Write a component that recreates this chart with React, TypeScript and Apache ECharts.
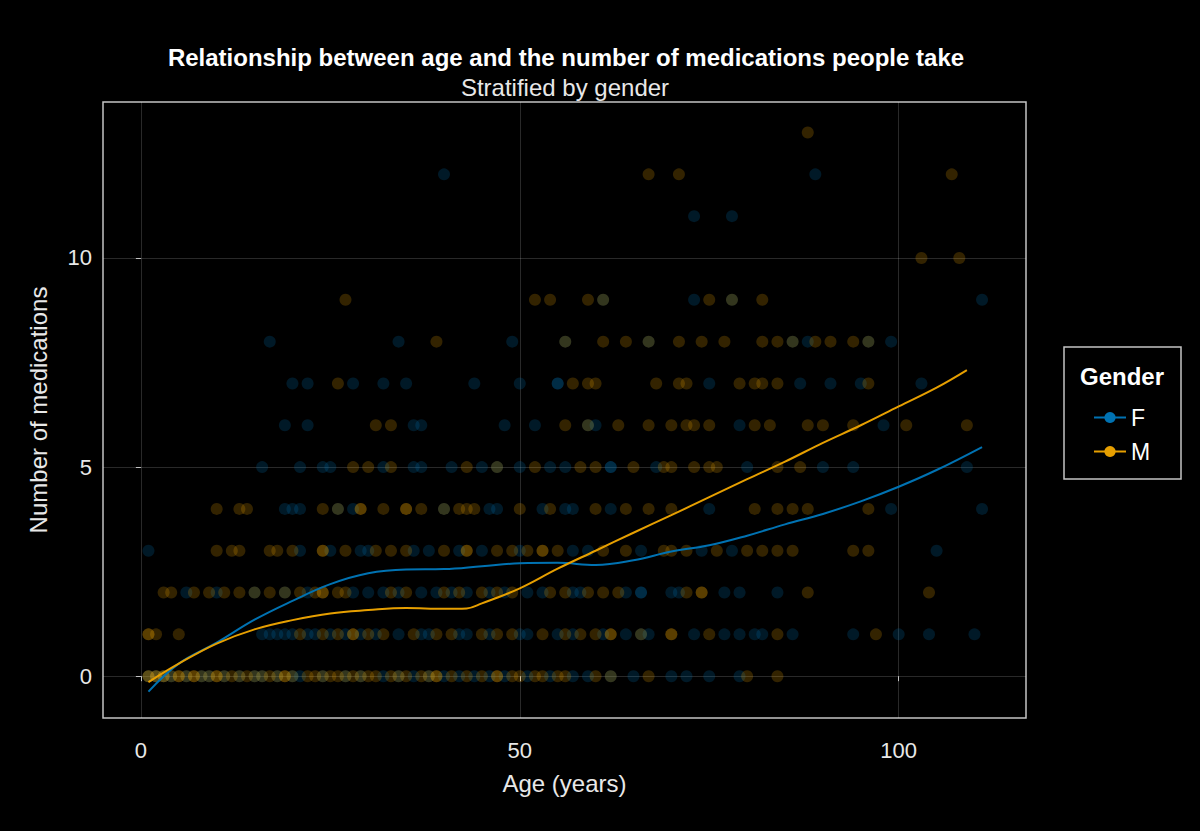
import React, { useEffect, useRef } from "react";
import * as echarts from "echarts";

const TITLE = "Relationship between age and the number of medications people take";
const SUBTITLE = "Stratified by gender";
const X_NAME = "Age (years)";
const Y_NAME = "Number of medications";
const LEGEND_TITLE = "Gender";
const X_TICKS = [0, 50, 100];
const Y_TICKS = [0, 5, 10];
const GROUPS = ["F", "M"];
const COLORS = ["#0072B2", "#E69F00"];

// Ages of the observed people, for each number of medications (0 … 13)
const F_MEDS_0 = [1, 2, 3, 4, 6, 8, 9, 11, 13, 15, 16, 18, 20, 21, 24, 27, 29, 32, 34, 36, 38, 40, 42, 44, 46, 48, 51, 54, 57, 59, 62, 65, 70, 72, 75, 79];
const M_MEDS_0 = [1, 1, 2, 2, 3, 3, 4, 5, 5, 6, 7, 7, 8, 9, 10, 10, 11, 12, 13, 14, 15, 16, 17, 18, 19, 19, 20, 22, 23, 24, 25, 26, 27, 28, 29, 30, 31, 33, 34, 35, 37, 38, 39, 39, 41, 43, 45, 47, 47, 49, 50, 52, 53, 55, 56, 60, 62, 67, 80, 84];
const F_MEDS_1 = [16, 17, 18, 19, 20, 22, 23, 25, 27, 29, 31, 34, 37, 38, 42, 43, 46, 50, 51, 55, 57, 61, 64, 66, 67, 73, 77, 79, 81, 82, 86, 94, 100, 104, 110];
const M_MEDS_1 = [1, 1, 2, 5, 21, 24, 26, 28, 28, 30, 32, 36, 39, 41, 45, 47, 49, 53, 56, 58, 60, 62, 62, 66, 70, 70, 75, 84, 97];
const F_MEDS_2 = [6, 10, 15, 19, 22, 28, 30, 32, 34, 37, 39, 41, 43, 46, 48, 51, 53, 57, 58, 64, 66, 66, 70, 71, 77, 79, 84];
const M_MEDS_2 = [3, 4, 7, 9, 11, 13, 15, 17, 19, 21, 23, 24, 24, 26, 27, 33, 35, 40, 42, 45, 47, 49, 54, 56, 59, 61, 63, 72, 74, 74, 88, 104];
const F_MEDS_3 = [1, 21, 25, 29, 30, 36, 38, 42, 45, 50, 57, 59, 66, 74, 78, 105];
const M_MEDS_3 = [10, 12, 13, 17, 18, 20, 24, 24, 27, 31, 33, 35, 40, 43, 43, 47, 49, 51, 53, 53, 55, 61, 64, 69, 70, 72, 76, 80, 82, 84, 86, 94, 96];
const F_MEDS_4 = [19, 20, 21, 26, 28, 40, 46, 47, 53, 56, 57, 62, 75, 99, 111];
const M_MEDS_4 = [10, 13, 14, 24, 26, 29, 29, 32, 35, 35, 37, 40, 42, 43, 44, 50, 54, 60, 64, 67, 70, 81, 84, 86, 88, 96];
const F_MEDS_5 = [16, 21, 24, 25, 32, 36, 37, 41, 45, 47, 50, 54, 56, 62, 62, 68, 80, 90, 94, 109];
const M_MEDS_5 = [28, 30, 33, 43, 47, 52, 58, 60, 65, 69, 70, 73, 75, 76, 84, 87];
const F_MEDS_6 = [19, 22, 36, 37, 48, 52, 59, 60, 79, 98];
const M_MEDS_6 = [31, 33, 56, 59, 63, 67, 70, 72, 73, 75, 81, 83, 88, 90, 94, 101, 109];
const F_MEDS_7 = [20, 22, 28, 32, 35, 44, 50, 55, 55, 75, 87, 91, 95, 103];
const M_MEDS_7 = [26, 57, 59, 60, 68, 71, 72, 79, 81, 82, 84, 96];
const F_MEDS_8 = [17, 34, 49, 56, 67, 86, 88, 96, 99];
const M_MEDS_8 = [39, 56, 61, 64, 67, 71, 74, 77, 82, 84, 86, 89, 91, 94, 96];
const F_MEDS_9 = [61, 73, 78, 111];
const M_MEDS_9 = [27, 52, 54, 59, 61, 75, 78, 82];
const F_MEDS_10: number[] = [];
const M_MEDS_10 = [103, 108];
const F_MEDS_11 = [73, 78];
const M_MEDS_11: number[] = [];
const F_MEDS_12 = [40, 89];
const M_MEDS_12 = [67, 71, 107];
const F_MEDS_13: number[] = [];
const M_MEDS_13 = [88];

const F_ROWS = [F_MEDS_0, F_MEDS_1, F_MEDS_2, F_MEDS_3, F_MEDS_4, F_MEDS_5, F_MEDS_6, F_MEDS_7, F_MEDS_8, F_MEDS_9, F_MEDS_10, F_MEDS_11, F_MEDS_12, F_MEDS_13];
const M_ROWS = [M_MEDS_0, M_MEDS_1, M_MEDS_2, M_MEDS_3, M_MEDS_4, M_MEDS_5, M_MEDS_6, M_MEDS_7, M_MEDS_8, M_MEDS_9, M_MEDS_10, M_MEDS_11, M_MEDS_12, M_MEDS_13];

// Smoothed (loess) trend per gender
const F_SMOOTH_AGE = [1, 5, 10, 15, 20, 25, 30, 35, 40, 45, 50, 55, 60, 65, 70, 75, 80, 85, 90, 95, 100, 105, 111];
const F_SMOOTH_VAL = [-0.37, 0.3, 0.8, 1.35, 1.8, 2.2, 2.46, 2.55, 2.56, 2.63, 2.7, 2.71, 2.66, 2.77, 2.98, 3.13, 3.36, 3.63, 3.88, 4.18, 4.53, 4.93, 5.48];
const M_SMOOTH_AGE = [1, 5, 10, 15, 20, 25, 30, 35, 40, 43, 45, 50, 55, 60, 65, 70, 75, 80, 85, 90, 95, 100, 105, 109];
const M_SMOOTH_VAL = [-0.14, 0.3, 0.78, 1.12, 1.34, 1.5, 1.58, 1.63, 1.61, 1.62, 1.74, 2.1, 2.57, 3.0, 3.43, 3.85, 4.28, 4.71, 5.13, 5.58, 6.0, 6.45, 6.9, 7.32];

const FONT = "'Liberation Sans', Arial, sans-serif";

function rowsToPoints(rows: number[][]) {
  const out: number[][] = [];
  rows.forEach((ages, meds) => ages.forEach((a) => out.push([a, meds])));
  return out;
}
function zip(xs: number[], ys: number[]) {
  return xs.map((x, i) => [x, ys[i]]);
}

export default function App() {
  const ref = useRef<HTMLDivElement>(null);
  useEffect(() => {
    if (!ref.current) return;
    const chart = echarts.init(ref.current, undefined, { renderer: "svg" });
    const option: any = {
      animation: false,
      backgroundColor: "#000000",
      textStyle: { fontFamily: FONT },
      grid: {
        left: 103,
        top: 102,
        width: 923,
        height: 616,
        show: true,
        borderColor: "#c4c4c4",
        borderWidth: 1.5,
        backgroundColor: "transparent",
      },
      xAxis: {
        type: "value",
        min: -5,
        max: 116.8,
        name: X_NAME,
        nameLocation: "middle",
        nameGap: 53,
        nameTextStyle: { color: "#e8e8e8", fontSize: 24, fontFamily: FONT },
        axisLine: { show: false },
        axisTick: { show: true, length: 5, inside: false, customValues: X_TICKS, lineStyle: { color: "#c4c4c4" } },
        axisLabel: { customValues: X_TICKS, color: "#e8e8e8", fontSize: 22, margin: 21, fontFamily: FONT },
        splitLine: { show: true, lineStyle: { color: "rgba(255,255,255,0.16)", width: 1 } },
      },
      yAxis: {
        type: "value",
        min: -1.0,
        max: 13.73,
        name: Y_NAME,
        nameLocation: "middle",
        nameGap: 53,
        nameTextStyle: { color: "#e8e8e8", fontSize: 24, fontFamily: FONT },
        axisLine: { show: false },
        axisTick: { show: true, length: 5, inside: false, customValues: Y_TICKS, lineStyle: { color: "#c4c4c4" } },
        axisLabel: { customValues: Y_TICKS, color: "#e8e8e8", fontSize: 22, margin: 11, fontFamily: FONT },
        splitLine: { show: true, lineStyle: { color: "rgba(255,255,255,0.16)", width: 1 } },
      },
      legend: {
        data: GROUPS,
        orient: "vertical",
        left: 1088,
        top: 401,
        itemWidth: 32,
        itemHeight: 14,
        itemGap: 11,
        textStyle: { color: "#ffffff", fontSize: 23, fontFamily: FONT },
        selectedMode: false,
      },
      graphic: [
        {
          type: "text",
          x: 566,
          y: 57,
          style: { text: TITLE, fill: "#ffffff", font: `bold 24px ${FONT}`, textAlign: "center", textVerticalAlign: "middle" },
        },
        {
          type: "text",
          x: 565,
          y: 87,
          style: { text: SUBTITLE, fill: "#e8e8e8", font: `24px ${FONT}`, textAlign: "center", textVerticalAlign: "middle" },
        },
        {
          type: "rect",
          shape: { x: 1064, y: 347, width: 117, height: 132 },
          style: { fill: "none", stroke: "#c4c4c4", lineWidth: 1.5 },
        },
        {
          type: "text",
          x: 1122,
          y: 376,
          style: { text: LEGEND_TITLE, fill: "#ffffff", font: `bold 24px ${FONT}`, textAlign: "center", textVerticalAlign: "middle" },
        },
      ],
      series: [
        {
          name: "F points",
          type: "scatter",
          data: rowsToPoints(F_ROWS),
          symbolSize: 12,
          itemStyle: { color: COLORS[0], opacity: 0.22 },
          silent: true,
          z: 2,
        },
        {
          name: "M points",
          type: "scatter",
          data: rowsToPoints(M_ROWS),
          symbolSize: 12,
          itemStyle: { color: COLORS[1], opacity: 0.22 },
          silent: true,
          z: 2,
        },
        {
          name: GROUPS[0],
          type: "line",
          data: zip(F_SMOOTH_AGE, F_SMOOTH_VAL),
          smooth: 0.4,
          showSymbol: false,
          symbol: "circle",
          symbolSize: 11,
          itemStyle: { color: COLORS[0] },
          lineStyle: { color: COLORS[0], width: 2 },
          z: 3,
        },
        {
          name: GROUPS[1],
          type: "line",
          data: zip(M_SMOOTH_AGE, M_SMOOTH_VAL),
          smooth: 0.4,
          showSymbol: false,
          symbol: "circle",
          symbolSize: 11,
          itemStyle: { color: COLORS[1] },
          lineStyle: { color: COLORS[1], width: 2 },
          z: 4,
        },
      ],
    };
    chart.setOption(option);
    return () => chart.dispose();
  }, []);
  return (
    <div
      ref={ref}
      style={{ position: "fixed", left: 0, top: 0, width: 1200, height: 831, background: "#000" }}
    />
  );
}
